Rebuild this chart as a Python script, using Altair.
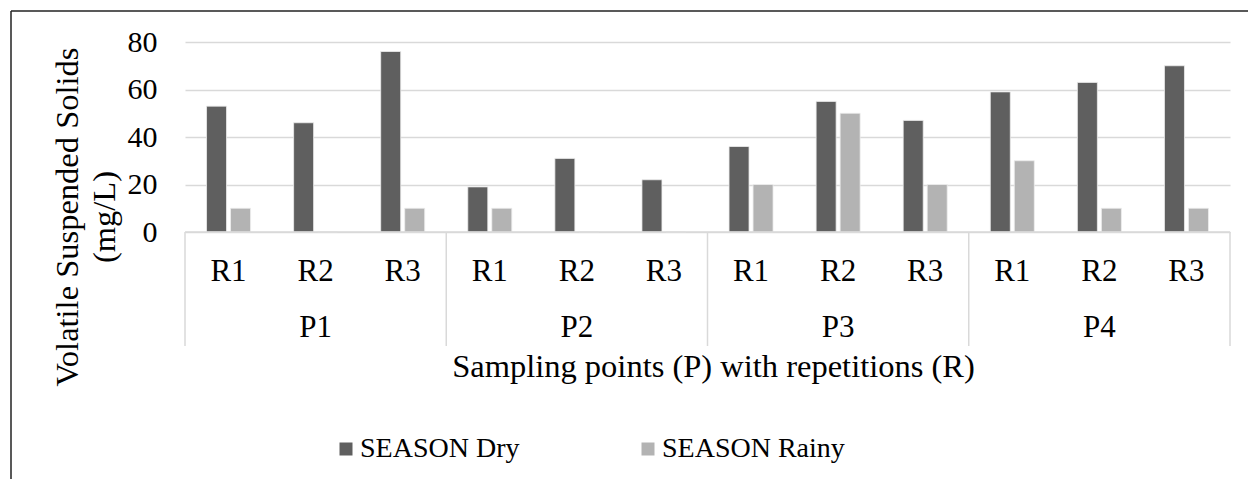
import altair as alt
import pandas as pd

# ---- data ----
points = ["P1", "P1", "P1", "P2", "P2", "P2", "P3", "P3", "P3", "P4", "P4", "P4"]
reps = ["R1", "R2", "R3"] * 4
dry = [53, 46, 76, 19, 31, 22, 36, 55, 47, 59, 63, 70]
rainy = [10, 0, 10, 10, 0, 0, 20, 50, 20, 30, 10, 10]
groups = ["P1", "P2", "P3", "P4"]
series = ["SEASON Dry", "SEASON Rainy"]
colors = ["#5f5f5f", "#b3b3b3"]
y_ticks = [0, 20, 40, 60, 80]
y_title = ["Volatile Suspended Solids", "(mg/L)"]
x_title = "Sampling points (P) with repetitions (R)"

FONT = "Liberation Serif"
W, H = 1045, 190
GRID = "#d9d9d9"

cats = [f"{p}-{r}" for p, r in zip(points, reps)]
rows = []
for c, p, r, d, rn in zip(cats, points, reps, dry, rainy):
    rows.append({"cat": c, "P": p, "R": r, "season": series[0], "value": d})
    rows.append({"cat": c, "P": p, "R": r, "season": series[1], "value": rn})
df = pd.DataFrame(rows)
cat_df = pd.DataFrame({"cat": cats, "R": reps, "P": points})
grp_df = pd.DataFrame({"P": groups, "cat": [f"{g}-R2" for g in groups]})
first_df = pd.DataFrame({"cat": [f"{g}-R1" for g in groups]})
last_df = pd.DataFrame({"cat": [cats[-1]]})
one = pd.DataFrame({"k": [0]})

xscale = alt.Scale(domain=cats, paddingInner=0, paddingOuter=0)

bars = alt.Chart(df).mark_bar(stroke="#eeeeee", strokeWidth=0.8).encode(
    x=alt.X("cat:N", scale=xscale, axis=None),
    xOffset=alt.XOffset("season:N", scale=alt.Scale(domain=series, paddingInner=1 / 6, paddingOuter=0.897)),
    y=alt.Y(
        "value:Q",
        scale=alt.Scale(domain=[0, 80]),
        axis=alt.Axis(
            values=y_ticks, title=None, domain=False, ticks=False, grid=True,
            gridColor=GRID, gridWidth=1.5, labelFont=FONT, labelFontSize=30,
            labelColor="black", labelPadding=28,
        ),
    ),
    color=alt.Color(
        "season:N",
        scale=alt.Scale(domain=series, range=colors),
        legend=alt.Legend(
            title=None, orient="none", direction="horizontal", legendX=147, legendY=393,
            symbolType="square", symbolSize=169, symbolStrokeWidth=0, labelFont=FONT,
            labelFontSize=28, labelColor="black", columnPadding=114, labelOffset=0,
            padding=0, labelLimit=0,
        ),
    ),
)

baseline = alt.Chart(one).mark_rule(color=GRID, strokeWidth=1.5).encode(
    x=alt.value(0), x2=alt.value(W), y=alt.value(H)
)
seps_first = alt.Chart(first_df).mark_rule(color=GRID, strokeWidth=1.5).encode(
    x=alt.X("cat:N", scale=xscale, axis=None, bandPosition=0),
    y=alt.value(H), y2=alt.value(H + 114),
)
seps_last = alt.Chart(last_df).mark_rule(color=GRID, strokeWidth=1.5).encode(
    x=alt.X("cat:N", scale=xscale, axis=None, bandPosition=1),
    y=alt.value(H), y2=alt.value(H + 114),
)
r_labels = alt.Chart(cat_df).mark_text(font=FONT, fontSize=31, color="black", baseline="middle").encode(
    x=alt.X("cat:N", scale=xscale, axis=None), y=alt.value(230), text="R:N"
)
p_labels = alt.Chart(grp_df).mark_text(font=FONT, fontSize=31, color="black", baseline="middle").encode(
    x=alt.X("cat:N", scale=xscale, axis=None), y=alt.value(286), text="P:N"
)
xt = alt.Chart(one).mark_text(font=FONT, fontSize=32.5, color="black", baseline="middle", text=x_title).encode(
    x=alt.value(W / 2 + 6), y=alt.value(325)
)
yt = alt.Chart(one).mark_text(
    font=FONT, fontSize=32.5, color="black", baseline="middle", align="center", angle=270,
    text=y_title, lineHeight=37,
).encode(x=alt.value(-117), y=alt.value(175))

border_top = alt.Chart(one).mark_rule(color="#222222", strokeWidth=1.5).encode(
    x=alt.value(-174), x2=alt.value(1248 - 185), y=alt.value(-31)
)
border_left = alt.Chart(one).mark_rule(color="#222222", strokeWidth=1.5).encode(
    x=alt.value(-174), y=alt.value(-31), y2=alt.value(479 - 42)
)

chart = alt.layer(
    bars, baseline, seps_first, seps_last, r_labels, p_labels, xt, yt, border_top, border_left
).properties(
    width=W, height=H,
    autosize=alt.AutoSizeParams(type="none"),
    padding={"left": 185, "top": 42, "right": 18, "bottom": 247},
    background="white",
).configure_view(stroke=None)

chart.save("out.html", embed_options={"renderer": "svg", "actions": False})
